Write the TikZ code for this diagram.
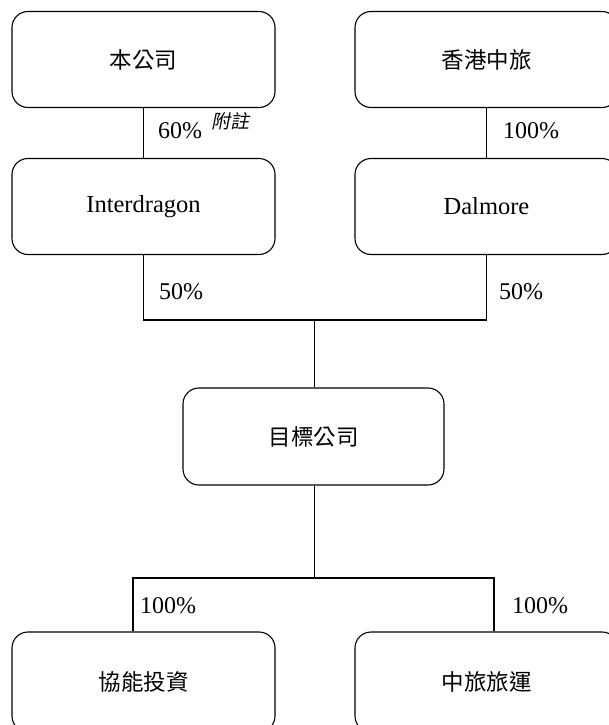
\documentclass[tikz,border=0pt]{standalone}
\usepackage{fontspec}
\setmainfont{Liberation Serif}
\newfontfamily\cjk{Noto Sans CJK TC}
\newfontfamily\cjkit[FakeSlant=0.2]{Noto Sans CJK TC}
\begin{document}
\begin{tikzpicture}[x=1pt,y=-1pt,
  box/.style={draw, line width=1.1pt, rounded corners=16pt, minimum width=263pt, minimum height=96pt, inner sep=0pt, font=\fontsize{24.5}{28}\selectfont},
  cbox/.style={box, font=\cjk\fontsize{22.5}{26}\selectfont},
  pct/.style={font=\fontsize{24}{28}\selectfont, inner sep=0pt},
  link/.style={line width=1.1pt}]
\useasboundingbox (0,0) rectangle (609,725);
\clip (0,0) rectangle (609,725);
\node[cbox] (bgs) at (143.5,59.5) {本公司};
\node[cbox] (hk) at (486.5,59.5) {香港中旅};
\node[box] (intd) at (143.5,206.5) {Interdragon};
\node[box] (dal) at (486.5,206.5) {Dalmore};
\node[cbox, minimum width=261pt, minimum height=97pt] (tgt) at (313.5,436.5) {目標公司};
\node[cbox, minimum height=100pt] (xn) at (143.5,682) {協能投資};
\node[cbox, minimum height=100pt] (ctt) at (486.5,682) {中旅旅運};
\coordinate (jtop) at (314.5,320);
\coordinate (jbot) at (314.5,578);
\coordinate (lx) at (133,578);
\coordinate (rx) at (494,578);
\draw[link] (bgs.south) -- (intd.north);
\draw[link] (hk.south) -- (dal.north);
\draw[link] (intd.south) |- (jtop) -| (dal.south);
\draw[link] (jtop) -- (tgt.north -| jtop);
\draw[link] (tgt.south -| jbot) -- (jbot);
\draw[link] (xn.north -| lx) -- (lx) -- (rx) -- (ctt.north -| rx);
\node[pct] (p60) at (180,131) {60\%};
\node[font=\cjkit\fontsize{19}{22}\selectfont, inner sep=0pt] (note) at (230,121) {附註};
\node[pct] (p100a) at (531,131) {100\%};
\node[pct] (p50a) at (181,292) {50\%};
\node[pct] (p50b) at (521,292) {50\%};
\node[pct] (p100b) at (168,606) {100\%};
\node[pct] (p100c) at (540,606) {100\%};
\end{tikzpicture}
\end{document}
